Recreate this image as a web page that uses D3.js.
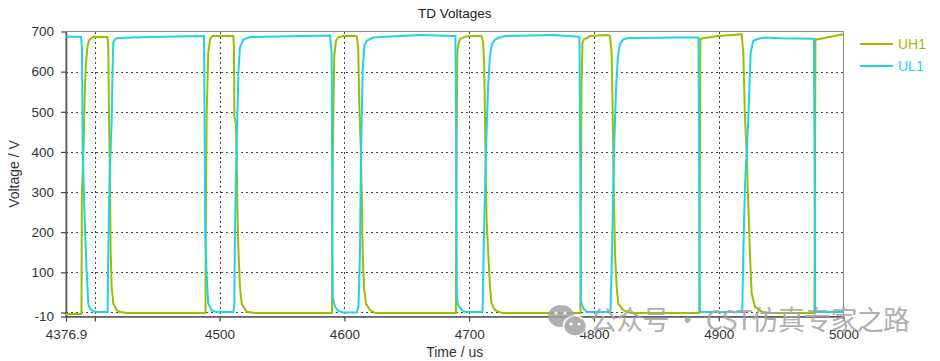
<!DOCTYPE html>
<html><head><meta charset="utf-8">
<script src="https://cdn.jsdelivr.net/npm/d3@7"></script>
<style>
body{margin:0;background:#fff;}
svg{display:block;font-family:"Liberation Sans",Arial,sans-serif;}
</style>
</head><body>
<svg id="chart" width="940" height="361"></svg>
<script>
// ---------- data ----------
const chartTitle = "TD Voltages";
const xAxisTitle = "Time / us";
const yAxisTitle = "Voltage / V";
const seriesNames = ["UH1", "UL1"];
const seriesColors = ["#99bf00", "#1fd3e4"];

const xTickValues = [4376.9, 4400, 4500, 4600, 4700, 4800, 4900, 5000];
const xTickLabels = ["4376.9", "", "4500", "4600", "4700", "4800", "4900", "5000"];
const xGridValues = [4400, 4500, 4600, 4700, 4800, 4900];
const yTickValues = [-10, 0, 100, 200, 300, 400, 500, 600, 700];
const yTickLabels = ["-10", "", "100", "200", "300", "400", "500", "600", "700"];
const yGridValues = [0, 100, 200, 300, 400, 500, 600];

// UH1 (time in us, voltage in V)
const timeUH1 = [
 4376.9, 4389.3, 4389.6, 4390.8, 4392.1, 4392.9, 4394.0, 4395.3, 4398.5, 4410.2, 4410.8, 4411.4, 4411.8, 4412.2, 4412.7, 4413.5, 4414.8, 4417.5, 4420.2, 4425.8,
 4488.7, 4488.9, 4489.6, 4490.9, 4492.3, 4493.9, 4511.0, 4511.5, 4511.8, 4513.1, 4513.7, 4514.2, 4515.0, 4516.3, 4517.7, 4521.7, 4528.4,
 4590.1, 4590.3, 4591.1, 4591.9, 4593.3, 4595.1, 4599.1, 4609.9, 4611.1, 4611.9, 4613.1, 4613.9, 4614.7, 4615.7, 4617.3, 4620.5, 4624.5,
 4689.4, 4689.6, 4690.0, 4690.5, 4691.3, 4692.6, 4696.7, 4700.7, 4710.0, 4711.3, 4712.1, 4712.7, 4713.2, 4714.0, 4715.3, 4716.7, 4718.0, 4720.7, 4726.1,
 4789.2, 4789.5, 4790.0, 4790.8, 4792.0, 4794.2, 4796.8, 4811.5, 4812.9, 4814.2, 4815.0, 4815.5, 4816.1, 4816.9, 4818.2, 4819.5, 4823.5, 4828.9,
 4884.4, 4884.7, 4885.0, 4885.3, 4887.6, 4899.6, 4918.4, 4919.7, 4921.0, 4922.4, 4923.2, 4924.2, 4925.0, 4926.4, 4929.1, 4934.4, 4941.1,
 4976.7, 4977.1, 4977.5, 4978.7, 4991.6, 5000.0
];
const voltUH1 = [
 -4, -4, 290, 400, 560, 620, 660, 678, 686, 686, 660, 480, 400, 300, 150, 64, 22, 6, 1, -1,
 -1, 197, 489, 647, 680, 689, 689, 660, 489, 470, 397, 264, 164, 64, 22, 2, -1,
 -1, 250, 480, 640, 677, 685, 689, 689, 660, 522, 414, 297, 147, 64, 22, 6, -1,
 -1, 247, 439, 647, 668, 681, 687, 689, 689, 672, 606, 481, 364, 231, 147, 64, 22, 6, -1,
 -1, 300, 560, 670, 681, 683, 689, 691, 689, 647, 497, 397, 272, 147, 64, 22, 6, -1,
 -1, 197, 481, 681, 683, 689, 693, 647, 489, 397, 314, 231, 147, 47, 14, 2, -1,
 -1, 300, 681, 680, 688, 693
];

// UL1
const timeUL1 = [
 4376.9, 4388.9, 4389.7, 4390.3, 4391.7, 4393.3, 4394.8, 4396.1, 4398.8, 4401.7, 4410.2, 4410.8, 4411.8, 4413.5, 4414.2, 4414.8, 4416.2, 4418.6, 4444.2, 4476.3, 4487.5,
 4488.1, 4488.5, 4489.5, 4490.9, 4493.7, 4497.7, 4511.0, 4511.8, 4512.3, 4513.5, 4515.1, 4516.3, 4519.0, 4524.4, 4556.4, 4588.5,
 4589.8, 4590.3, 4590.6, 4592.5, 4595.1, 4599.1, 4609.9, 4611.3, 4612.5, 4613.3, 4614.7, 4616.0, 4617.9, 4623.2, 4633.9, 4660.6, 4687.3,
 4689.0, 4689.6, 4690.1, 4691.0, 4692.6, 4695.0, 4697.5, 4710.0, 4710.8, 4711.9, 4713.5, 4715.1, 4716.7, 4718.3, 4720.7, 4724.7, 4730.1, 4767.4, 4787.5,
 4788.4, 4789.1, 4789.5, 4791.5, 4794.2, 4812.9, 4813.3, 4814.5, 4816.1, 4817.7, 4819.3, 4820.9, 4823.3, 4827.3, 4866.3, 4883.1,
 4883.8, 4884.4, 4884.8, 4885.8, 4918.4, 4918.9, 4919.7, 4921.0, 4923.7, 4925.6, 4927.7, 4931.7, 4935.7, 4949.1, 4975.8,
 4976.3, 4976.9, 4977.3, 4978.3, 5000.0
];
const voltUL1 = [
 687, 687, 660, 397, 250, 110, 20, 10, 3, 1, 1, 150, 330, 480, 600, 672, 681, 684, 686, 688, 689,
 400, 197, 100, 22, 5, 1, 1, 20, 200, 400, 600, 660, 680, 686, 688, 690,
 647, 300, 39, 14, 4, 0, 0, 15, 147, 397, 606, 664, 677, 685, 687, 691, 689,
 689, 400, 40, 20, 12, 4, 1, 1, 5, 200, 400, 560, 640, 670, 680, 686, 689, 691, 687,
 687, 300, 30, 10, 2, 1, 5, 150, 400, 560, 640, 670, 680, 684, 685, 685,
 684, 300, 5, 1, 1, 6, 147, 314, 481, 647, 677, 682, 685, 683, 682,
 682, 300, 5, 1, 1
];

const watermarkText = "公众号 · CST仿真专家之路";

// ---------- layout ----------
const svg = d3.select("#chart");
const L = 66, R = 843.5, T = 31.5, B = 316.5;

const x = d3.scaleLinear().domain([4376.9, 5000]).range([L, R]);
const y = d3.scaleLinear().domain([-10, 700]).range([B, T]);

// grid
const grid = svg.append("g").attr("stroke", "#444").attr("stroke-width", 1)
  .attr("stroke-dasharray", "2,3").attr("shape-rendering", "crispEdges");
grid.selectAll("line.h").data(yGridValues).join("line").attr("class", "h")
  .attr("x1", L).attr("x2", R).attr("y1", d => Math.round(y(d)) + 0.5).attr("y2", d => Math.round(y(d)) + 0.5);
grid.selectAll("line.v").data(xGridValues).join("line").attr("class", "v")
  .attr("y1", T).attr("y2", B).attr("x1", d => Math.round(x(d)) + 0.5).attr("x2", d => Math.round(x(d)) + 0.5);

// frame
svg.append("rect").attr("x", L).attr("y", T).attr("width", R - L).attr("height", B - T)
  .attr("fill", "none").attr("stroke", "#8a8a8a").attr("stroke-width", 1);

// axes
const xAxis = d3.axisBottom(x).tickValues(xTickValues)
  .tickFormat((d, i) => xTickLabels[i]).tickSize(5).tickSizeOuter(0).tickPadding(8);
const yAxis = d3.axisLeft(y).tickValues(yTickValues)
  .tickFormat((d, i) => yTickLabels[i]).tickSize(5).tickSizeOuter(0).tickPadding(7);

const gx = svg.append("g").attr("transform", `translate(0,${B})`).call(xAxis);
const gy = svg.append("g").attr("transform", `translate(${L},0)`).call(yAxis);
[gx, gy].forEach(g => {
  g.select(".domain").attr("stroke", "#555").attr("stroke-width", 1.6);
  g.selectAll(".tick line").attr("stroke", "#444").attr("stroke-width", 1.2);
  g.selectAll(".tick text").attr("fill", "#333").attr("font-size", "13.5px")
    .attr("font-family", '"Liberation Sans", Arial, sans-serif');
});

// series lines
const clip = svg.append("clipPath").attr("id", "plotclip")
  .append("rect").attr("x", L).attr("y", T - 3).attr("width", R - L).attr("height", B - T + 4);
const line = d3.line().x(d => x(d[0])).y(d => y(d[1]));
const seriesData = [
  d3.zip(timeUH1, voltUH1),
  d3.zip(timeUL1, voltUL1)
];
svg.append("g").attr("clip-path", "url(#plotclip)")
  .selectAll("path").data(seriesData).join("path")
  .attr("d", line).attr("fill", "none")
  .attr("stroke", (d, i) => seriesColors[i]).attr("stroke-width", 2)
  .attr("stroke-linejoin", "round");

// titles
svg.append("text").attr("x", (L + R) / 2).attr("y", 18).attr("text-anchor", "middle")
  .attr("font-size", "13.5px").attr("fill", "#222").text(chartTitle);
svg.append("text").attr("x", (L + R) / 2).attr("y", 357).attr("text-anchor", "middle")
  .attr("font-size", "14px").attr("fill", "#333").text(xAxisTitle);
svg.append("text").attr("transform", `translate(19,${(T + B) / 2}) rotate(-90)`)
  .attr("text-anchor", "middle").attr("font-size", "14px").attr("fill", "#333").text(yAxisTitle);

// legend
const lg = svg.append("g");
seriesNames.forEach((name, i) => {
  const ly = 44 + i * 22;
  lg.append("line").attr("x1", 860).attr("x2", 893).attr("y1", ly).attr("y2", ly)
    .attr("stroke", seriesColors[i]).attr("stroke-width", 2);
  lg.append("text").attr("x", 898).attr("y", ly + 5).attr("font-size", "14px")
    .attr("fill", seriesColors[i]).text(name);
});

// watermark
const wm = svg.append("g").attr("opacity", 0.85);
wm.append("ellipse").attr("cx", 561).attr("cy", 316).attr("rx", 13).attr("ry", 11).attr("fill", "#a3a3a3");
wm.append("ellipse").attr("cx", 575).attr("cy", 326).attr("rx", 11.5).attr("ry", 10).attr("fill", "#a3a3a3")
  .attr("stroke", "#fff").attr("stroke-width", 1.5);
[[556, 313], [565, 313], [571, 324], [579, 324]].forEach(p =>
  wm.append("circle").attr("cx", p[0]).attr("cy", p[1]).attr("r", 1.6).attr("fill", "#fff"));
wm.append("text").attr("x", 590).attr("y", 330).attr("font-size", "27px")
  .attr("font-family", '"Noto Sans CJK SC", sans-serif').attr("fill", "#a3a3a3")
  .attr("textLength", 320).attr("lengthAdjust", "spacing").text(watermarkText);
</script>
</body></html>
